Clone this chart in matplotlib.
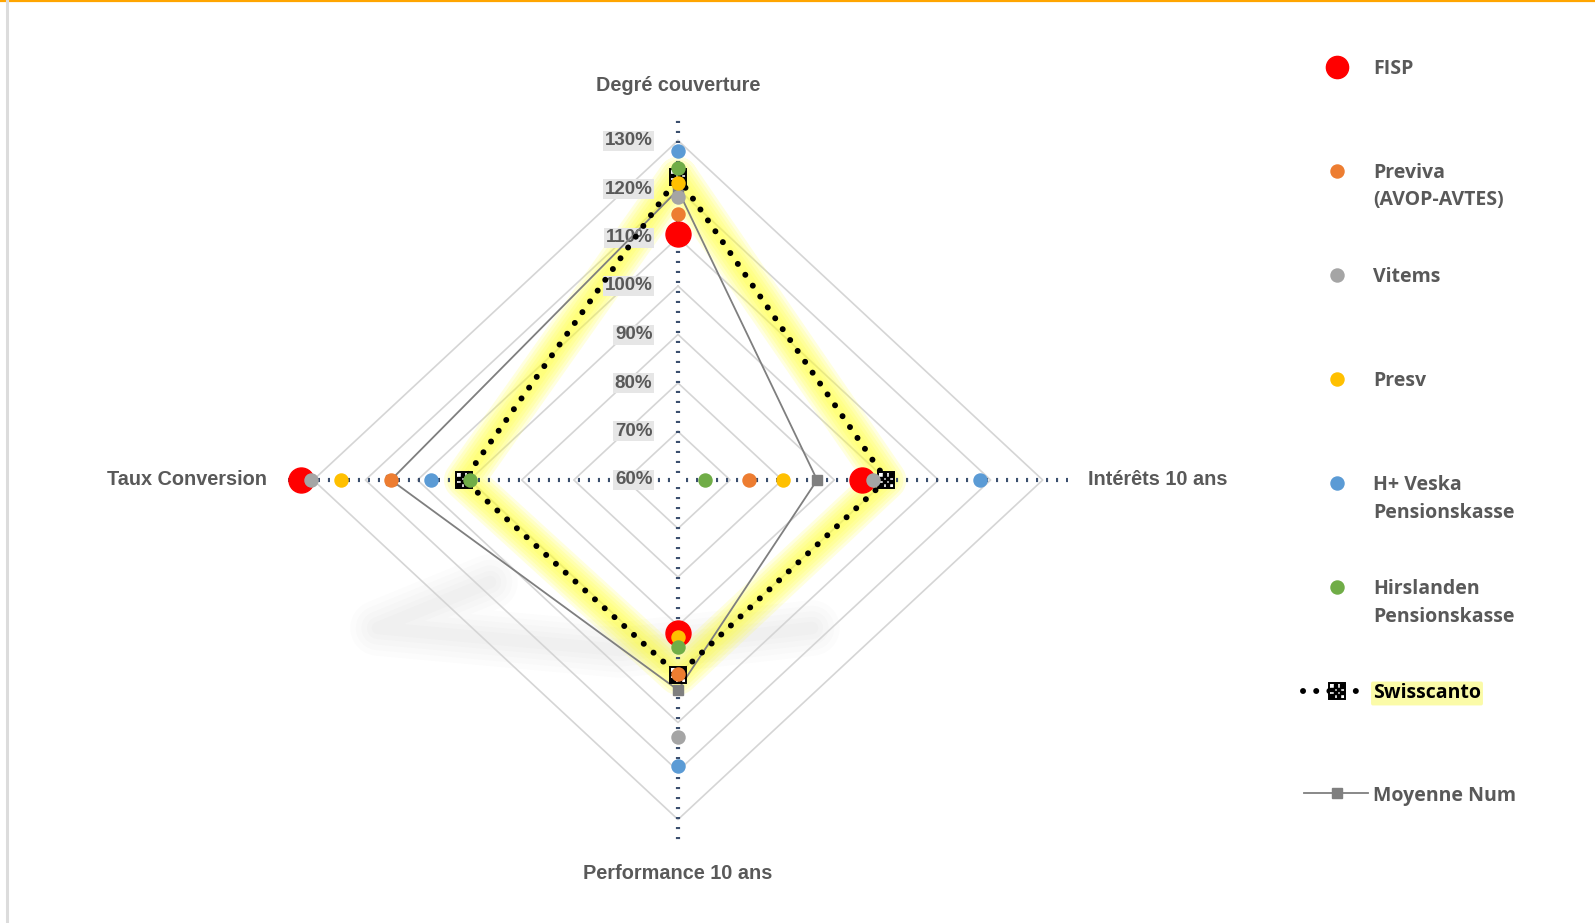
import numpy as np
import matplotlib.pyplot as plt
from matplotlib.path import Path
from matplotlib.lines import Line2D

# axes of the radar: top, right, bottom, left
axes_labels = ['Degré couverture', 'Intérêts 10 ans', 'Performance 10 ans', 'Taux Conversion']
tick_values = [60, 70, 80, 90, 100, 110, 120, 130]
tick_labels = ['60%', '70%', '80%', '90%', '100%', '110%', '120%', '130%']

fisp = [110.7, 95.3, 91.6, 132.4]
previva = [114.8, 73.6, 99.9, 115.1]
vitems = [118.3, 97.5, 112.9, 130.5]
presv = [121.2, 80.2, 92.3, 124.7]
hveska = [127.9, 118.0, 119.0, 107.5]
hirslanden = [124.3, 65.2, 94.5, 99.9]
swisscanto = [122.5, 100.0, 100.2, 101.1]
moyenne = [119.8, 86.7, 103.3, 115.1]

series_names = ['FISP', 'Previva\n(AVOP-AVTES)', 'Vitems', 'Presv',
                'H+ Veska\nPensionskasse', 'Hirslanden\nPensionskasse',
                'Swisscanto', 'Moyenne Num']
point_colors = ['#FF0000', '#ED7D31', '#A5A5A5', '#FFC000', '#5B9BD5', '#70AD47']

W, H = 1595, 923
CX, CY = 678, 480      # centre of the radar in pixels (from top)
SX, SY = 5.21, 4.85    # pixels per percent point
BASE = 60

fig = plt.figure(figsize=(W / 100, H / 100), dpi=100)
ax = fig.add_axes([0, 0, 1, 1])
ax.set_xlim(-CX / SX, (W - CX) / SX)
ax.set_ylim(-(H - CY) / SY, CY / SY)
ax.axis('off')

theta = np.pi / 2 - np.arange(4) * np.pi / 2


def radar_xy(vals, close=False):
    r = np.array(vals, dtype=float) - BASE
    x = r * np.cos(theta)
    y = r * np.sin(theta)
    if close:
        x = np.append(x, x[0])
        y = np.append(y, y[0])
    return np.round(x, 6), np.round(y, 6)


def pix(px, py):
    return (px - CX) / SX, (CY - py) / SY


# grid diamonds
for v in tick_values[1:]:
    gx, gy = radar_xy([v] * 4, close=True)
    ax.plot(gx, gy, color='#D5D5D5', lw=1.2, zorder=1)

# soft shadow under the chart
shx, shy = zip(*[pix(490, 582), pix(378, 628), pix(620, 650), pix(812, 628)])
for w in [40, 32, 24, 16, 9]:
    ax.plot(shx, shy, color='#8A8A8A', lw=w, alpha=0.022, solid_joinstyle='round',
            solid_capstyle='round', zorder=0.5)

# dotted axis lines
for t in theta:
    ax.plot([1.5 * np.cos(t), 74.8 * np.cos(t)], [1.5 * np.sin(t), 74.8 * np.sin(t)],
            color='#3B4F6E', lw=3, ls=(0, (0.5, 1.9)), dash_capstyle='butt', zorder=3)

# tick labels
for v, lab in zip(tick_values, tick_labels):
    ax.text(-4.9, v - BASE, lab, ha='right', va='center', fontsize=13.5,
            fontweight='bold', color='#595959', family='Liberation Sans',
            bbox=dict(boxstyle='square,pad=0.08', fc='#E6E6E6', ec='none'), zorder=4)

# axis labels
lab_pos = [(0, 81.4, 'center'), (78.7, 0, 'left'), (0, -81.2, 'center'), (-78.9, 0, 'right')]
for (lx, ly, ha), lab in zip(lab_pos, axes_labels):
    ax.text(lx, ly, lab, ha=ha, va='center', fontsize=14.3, fontweight='bold',
            color='#595959', family='Liberation Sans')

# checkered marker for Swisscanto
verts, codes = [], []
for i in range(4):
    for j in range(4):
        if (i + j) % 2 == 0:
            x0, y0 = -1 + i * 0.5, -1 + j * 0.5
            verts += [(x0, y0), (x0 + .5, y0), (x0 + .5, y0 + .5), (x0, y0 + .5), (x0, y0)]
            codes += [Path.MOVETO, Path.LINETO, Path.LINETO, Path.LINETO, Path.CLOSEPOLY]
checker = Path(verts, codes)

# Swisscanto: soft yellow glow + black round dots
sx_, sy_ = radar_xy(swisscanto, close=True)
for w in [40, 34, 28, 22, 16, 10]:
    ax.plot(sx_, sy_, color='#FFFF3A', lw=w / 1.39, alpha=0.16,
            solid_joinstyle='round', solid_capstyle='round', zorder=2)
ax.plot(sx_, sy_, color='black', lw=4.3, ls=(0, (0.01, 2.2)),
        dash_capstyle='round', zorder=5)

# Moyenne Num
mx, my = radar_xy(moyenne, close=True)
ax.plot(mx, my, color='#7F7F7F', lw=1.3, zorder=4.5)
ax.plot(mx[:-1], my[:-1], ls='none', marker='s', ms=7, color='#7F7F7F', zorder=4.6)

# point series
ax.plot(*radar_xy(fisp), ls='none', marker='o', ms=18, color=point_colors[0], zorder=6)
sq_x, sq_y = radar_xy(swisscanto)
ax.plot(sq_x, sq_y, ls='none', marker='s', ms=12, mfc='white', mec='black', mew=1.4, zorder=6.5)
ax.plot(sq_x, sq_y, ls='none', marker=checker, ms=10, color='black', zorder=6.6)
for vals, col in zip([previva, vitems, presv, hveska, hirslanden], point_colors[1:]):
    ax.plot(*radar_xy(vals), ls='none', marker='o', ms=9.4, color=col, zorder=7)

# legend (drawn by hand, pixel coordinates)
lax = fig.add_axes([0, 0, 1, 1], zorder=10)
lax.set_xlim(0, W)
lax.set_ylim(H, 0)
lax.axis('off')
lx_mark, lx_text, ly0, lstep = 1337, 1373, 67, 104
for i, name in enumerate(series_names):
    yy = ly0 + i * lstep - (2 if i == 7 else 0)
    if i < 6:
        lax.plot([lx_mark], [yy], ls='none', marker='o',
                 ms=16 if i == 0 else 9.4, color=point_colors[i])
    elif i == 6:
        lax.plot([1303, 1365], [yy, yy], color='black', lw=4.3, ls=(0, (0.01, 2.2)),
                 dash_capstyle='round')
        lax.plot([lx_mark], [yy], ls='none', marker='s', ms=12, mfc='white', mec='black', mew=1.4)
        lax.plot([lx_mark], [yy], ls='none', marker=checker, ms=10, color='black')
    else:
        lax.plot([1304, 1368], [yy, yy], color='#7F7F7F', lw=1.3)
        lax.plot([lx_mark], [yy], ls='none', marker='s', ms=7, color='#7F7F7F')
    for k, line in enumerate(name.split('\n')):
        if i == 6:
            lax.text(lx_text, yy + k * 27, line, ha='left', va='center_baseline',
                     fontsize=14, fontweight='bold', color='black', family='Open Sans',
                     bbox=dict(boxstyle='round,pad=0.1', fc='#FBFBA8', ec='none'))
        else:
            lax.text(lx_text, yy + k * 27, line, ha='left', va='center_baseline',
                     fontsize=14, fontweight='bold', color='#595959', family='Open Sans')

# frame decorations: orange top line, grey left line
fig.add_artist(Line2D([0, 1], [1 - 1 / H, 1 - 1 / H], transform=fig.transFigure,
                      color='#FFA500', lw=1.6))
fig.add_artist(Line2D([7 / W, 7 / W], [0, 1], transform=fig.transFigure,
                      color='#DCDCDC', lw=2.2))

fig.savefig('out.png', dpi=100, facecolor='white')
